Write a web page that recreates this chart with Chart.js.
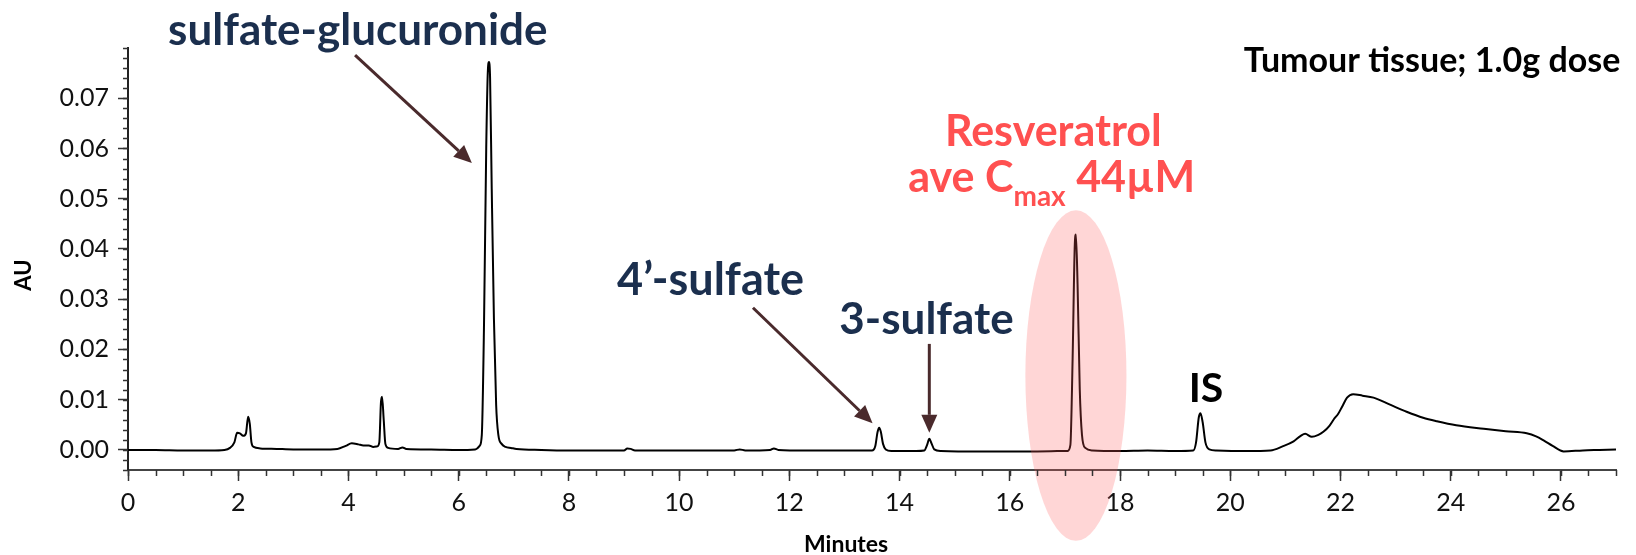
<!DOCTYPE html>
<html>
<head>
<meta charset="utf-8">
<script src="https://cdn.jsdelivr.net/npm/chart.js@4.4.1/dist/chart.umd.min.js"></script>
<style>
  html, body { margin: 0; padding: 0; background: #fff; }
  #wrap { width: 1636px; height: 555px; }
</style>
</head>
<body>
<div id="wrap"><canvas id="chart" width="1636" height="555"></canvas></div>
<script>
// retention time (minutes) and detector response (AU)
const minutes = [
  0.00, 0.50, 1.00, 1.50, 1.75, 1.85, 1.93, 1.98, 2.03, 2.09, 2.14, 2.18, 2.21, 2.24, 2.28, 2.40, 2.70, 3.00, 3.50, 3.80,
  3.95, 4.06, 4.18, 4.27, 4.37, 4.45, 4.52, 4.56, 4.59, 4.61, 4.64, 4.67, 4.72, 4.90, 4.98, 5.05, 5.50, 6.00, 6.30, 6.38,
  6.42, 6.46, 6.50, 6.53, 6.55, 6.57, 6.60, 6.64, 6.68, 6.72, 6.78, 6.85, 6.95, 7.05, 7.50, 8.00, 8.50, 9.00, 9.06, 9.12,
  9.20, 10.0, 10.5, 11.0, 11.1, 11.2, 11.65, 11.72, 11.80, 12.3, 12.8, 13.3, 13.50, 13.56, 13.60, 13.63, 13.66, 13.70, 13.75, 13.85,
  14.3, 14.45, 14.50, 14.54, 14.58, 14.63, 14.75, 15.5, 16.0, 16.5, 17.05, 17.10, 17.14, 17.18, 17.20, 17.23, 17.27, 17.31, 17.37, 17.50,
  18.0, 18.5, 19.0, 19.33, 19.38, 19.43, 19.46, 19.50, 19.55, 19.62, 19.75, 20.3, 20.73, 20.95, 21.15, 21.28, 21.36, 21.48, 21.60, 21.69,
  21.80, 21.88, 21.96, 22.03, 22.12, 22.23, 22.40, 22.60, 22.90, 23.20, 23.50, 23.75, 24.10, 24.60, 25.00, 25.38, 25.55, 25.70, 25.85, 26.05,
  26.40, 26.70, 27.00
];
const absorbance = [
  0.0000, 0.0000, -0.0001, -0.0001, 0.0000, 0.0004, 0.0015, 0.0034, 0.0033, 0.0028, 0.0033, 0.0066, 0.0052, 0.0015, 0.0006, 0.0003, 0.0002, 0.0001, 0.0001, 0.0002,
  0.0008, 0.0013, 0.0011, 0.0009, 0.0009, 0.0006, 0.0007, 0.0015, 0.0095, 0.0106, 0.0060, 0.0012, 0.0004, 0.0002, 0.0005, 0.0002, 0.0001, 0.0000, 0.0001, 0.0008,
  0.0030, 0.0250, 0.0600, 0.0755, 0.0772, 0.0740, 0.0520, 0.0260, 0.0090, 0.0030, 0.0012, 0.0006, 0.0004, 0.0002, 0.0000, -0.0001, -0.0001, -0.0001, 0.0003, 0.0002,
  -0.0001, -0.0001, -0.0001, -0.0001, 0.0001, -0.0001, 0.0000, 0.0003, 0.0000, -0.0001, -0.0001, -0.0001, -0.0001, 0.0008, 0.0035, 0.0044, 0.0036, 0.0012, 0.0001, -0.0002,
  -0.0002, -0.0001, 0.0010, 0.0022, 0.0013, 0.0001, -0.0002, -0.0003, -0.0003, -0.0003, -0.0002, 0.0010, 0.0180, 0.0410, 0.0429, 0.0330, 0.0120, 0.0030, 0.0004, -0.0001,
  -0.0002, -0.0001, -0.0002, -0.0001, 0.0015, 0.0065, 0.0073, 0.0055, 0.0015, 0.0001, -0.0001, -0.0002, -0.0001, 0.0007, 0.0017, 0.0028, 0.0032, 0.0026, 0.0030, 0.0036,
  0.0048, 0.0061, 0.0072, 0.0086, 0.0104, 0.0111, 0.0108, 0.0104, 0.0090, 0.0076, 0.0064, 0.0057, 0.0049, 0.0042, 0.0037, 0.0033, 0.0027, 0.0018, 0.0008, -0.0003,
  -0.0001, 0.0000, 0.0001
];
const xTicks = [0, 2, 4, 6, 8, 10, 12, 14, 16, 18, 20, 22, 24, 26];
const yTicks = [0, 0.01, 0.02, 0.03, 0.04, 0.05, 0.06, 0.07];

const navy = '#1b2f4e';
const arrowCol = '#4a2a2c';
const red = '#ff5050';

// labels placed in data coordinates (minutes, AU)
const notes = [
  { text: 'sulfate-glucuronide', x: 4.17, y: 0.0806, font: 'bold 44px Lato', color: navy },
  { text: 'Tumour tissue; 1.0g dose', x: 27.08, y: 0.0753, font: 'bold 34px Lato', color: '#000', align: 'right' },
  { text: 'Resveratrol', x: 16.79, y: 0.0604, font: 'bold 43px Lato', color: red },
  { text: '4\u2019-sulfate', x: 10.57, y: 0.0309, font: 'bold 45px Lato', color: navy },
  { text: '3-sulfate', x: 14.49, y: 0.0231, font: 'bold 44px Lato', color: navy },
  { text: 'IS', x: 19.56, y: 0.0096, font: 'bold 41px Lato', color: '#000' }
];
const arrows = [
  { from: [4.12, 0.0786], to: [6.24, 0.0571] },
  { from: [11.34, 0.0283], to: [13.51, 0.0053] },
  { from: [14.54, 0.0211], to: [14.54, 0.0034] }
];

function drawArrow(ctx, x1, y1, x2, y2) {
  const ang = Math.atan2(y2 - y1, x2 - x1);
  const hl = 18, hw = 8;
  ctx.save();
  ctx.strokeStyle = arrowCol;
  ctx.fillStyle = arrowCol;
  ctx.lineWidth = 3;
  ctx.beginPath();
  ctx.moveTo(x1, y1);
  ctx.lineTo(x2 - hl * Math.cos(ang), y2 - hl * Math.sin(ang));
  ctx.stroke();
  ctx.beginPath();
  ctx.moveTo(x2, y2);
  ctx.lineTo(x2 - hl * Math.cos(ang) + hw * Math.sin(ang), y2 - hl * Math.sin(ang) - hw * Math.cos(ang));
  ctx.lineTo(x2 - hl * Math.cos(ang) - hw * Math.sin(ang), y2 - hl * Math.sin(ang) + hw * Math.cos(ang));
  ctx.closePath();
  ctx.fill();
  ctx.restore();
}

const decor = {
  id: 'decor',
  afterDatasetsDraw(chart) {
    const { ctx, scales: { x, y } } = chart;
    // pink highlight round the resveratrol peak
    const cx = x.getPixelForValue(17.20), cy = y.getPixelForValue(0.0148);
    const rx = x.getPixelForValue(17.20 + 0.917) - cx;
    const ry = cy - y.getPixelForValue(0.0148 + 0.0329);
    ctx.save();
    ctx.fillStyle = 'rgba(255, 90, 90, 0.25)';
    ctx.beginPath();
    ctx.ellipse(cx, cy, rx, ry, 0, 0, Math.PI * 2);
    ctx.fill();
    ctx.restore();
  },
  afterDraw(chart) {
    const { ctx, chartArea: area, scales: { x, y } } = chart;
    ctx.save();
    // minor ticks
    ctx.strokeStyle = '#333';
    ctx.lineWidth = 1.5;
    ctx.beginPath();
    for (let v = 0; v <= 27.001; v += 0.5) {
      const px = Math.round(x.getPixelForValue(v)) + 0.5;
      ctx.moveTo(px, area.bottom);
      ctx.lineTo(px, area.bottom + 6);
    }
    for (let i = -2; i <= 40; i++) {
      const py = Math.round(y.getPixelForValue(i * 0.002)) + 0.5;
      ctx.moveTo(area.left, py);
      ctx.lineTo(area.left - 5, py);
    }
    ctx.stroke();

    // axis titles
    ctx.fillStyle = '#000';
    ctx.font = 'bold 23px Lato';
    ctx.textAlign = 'center';
    ctx.textBaseline = 'alphabetic';
    ctx.fillText('Minutes', x.getPixelForValue(13.03), chart.height - 3);
    ctx.save();
    ctx.translate(31, y.getPixelForValue(0.0348));
    ctx.rotate(-Math.PI / 2);
    ctx.font = 'bold 22px Lato';
    ctx.fillText('AU', 0, 0);
    ctx.restore();

    // arrows
    arrows.forEach(a => drawArrow(ctx,
      x.getPixelForValue(a.from[0]), y.getPixelForValue(a.from[1]),
      x.getPixelForValue(a.to[0]), y.getPixelForValue(a.to[1])));

    // text labels
    notes.forEach(n => {
      ctx.font = n.font;
      ctx.fillStyle = n.color;
      ctx.textAlign = n.align || 'center';
      ctx.fillText(n.text, x.getPixelForValue(n.x), y.getPixelForValue(n.y));
    });

    // "ave Cmax 44µM" with subscript
    const big = 'bold 43px Lato', small = 'bold 28px Lato';
    ctx.fillStyle = red;
    ctx.textAlign = 'left';
    ctx.font = big; const w1 = ctx.measureText('ave C').width;
    ctx.font = small; const w2 = ctx.measureText('max').width;
    ctx.font = big; const w3 = ctx.measureText(' 44\u00b5M').width;
    let sx = x.getPixelForValue(16.76) - (w1 + w2 + w3) / 2;
    const base = y.getPixelForValue(0.0514);
    ctx.font = big; ctx.fillText('ave C', sx, base);
    ctx.font = small; ctx.fillText('max', sx + w1, base + 14);
    ctx.font = big; ctx.fillText(' 44\u00b5M', sx + w1 + w2, base);
    ctx.restore();
  }
};

const ctx = document.getElementById('chart').getContext('2d');
const chart = new Chart(ctx, {
  type: 'line',
  data: {
    datasets: [{
      data: minutes.map((m, i) => ({ x: m, y: absorbance[i] })),
      borderColor: '#000',
      borderWidth: 2,
      pointRadius: 0,
      cubicInterpolationMode: 'monotone',
      fill: false
    }]
  },
  options: {
    responsive: false,
    animation: false,
    layout: { padding: { top: 48, right: 20, left: 0, bottom: 0 } },
    plugins: { legend: { display: false }, tooltip: { enabled: false } },
    scales: {
      x: {
        type: 'linear',
        min: 0,
        max: 27,
        afterBuildTicks: s => { s.ticks = xTicks.map(v => ({ value: v })); },
        afterFit: s => { s.height = 85; },
        grid: { drawOnChartArea: false, drawTicks: true, tickLength: 11, tickColor: '#333', tickWidth: 1.5 },
        border: { display: true, color: '#444', width: 2 },
        ticks: { color: '#111', font: { family: 'Lato', size: 25 }, padding: 7, maxRotation: 0 }
      },
      y: {
        min: -0.004,
        max: 0.08,
        afterBuildTicks: s => { s.ticks = yTicks.map(v => ({ value: v })); },
        afterFit: s => { s.width = 128; },
        grid: { drawOnChartArea: false, drawTicks: true, tickLength: 10, tickColor: '#333', tickWidth: 1.5 },
        border: { display: true, color: '#222', width: 2 },
        ticks: { color: '#111', font: { family: 'Lato', size: 25 }, padding: 9, callback: v => v.toFixed(2) }
      }
    }
  },
  plugins: [decor]
});
</script>
</body>
</html>
